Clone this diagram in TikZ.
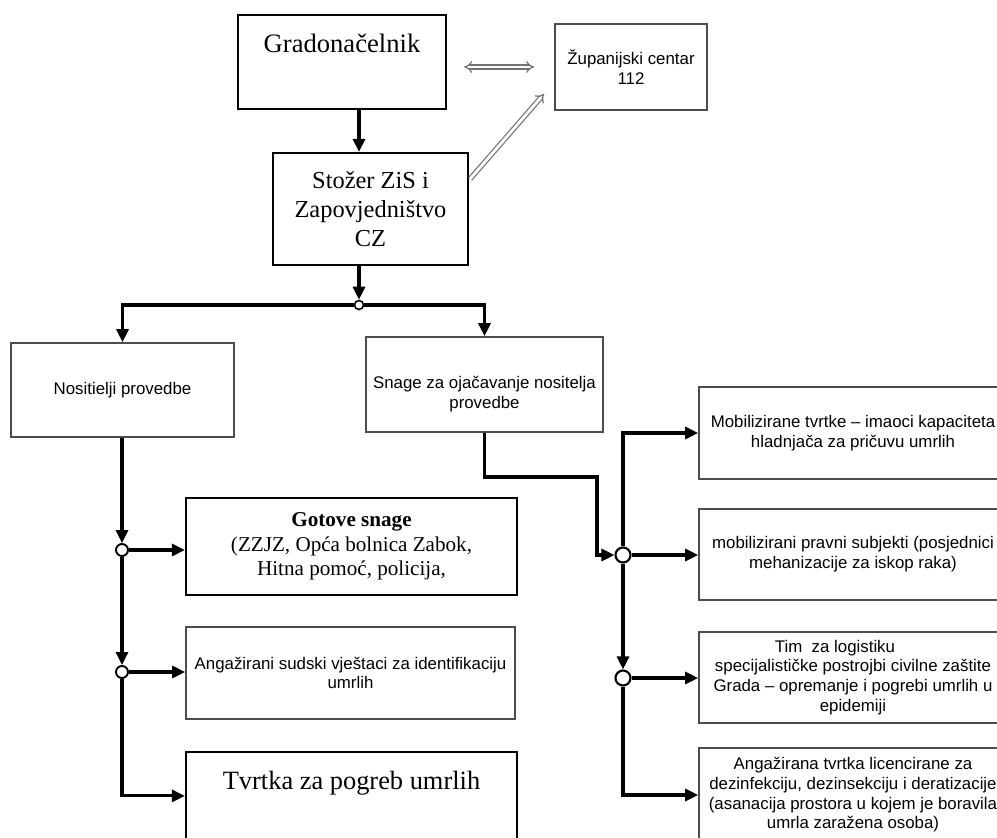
\documentclass[tikz,border=0pt]{standalone}
\usepackage{fontspec}
\setmainfont{Liberation Serif}
\setsansfont{Liberation Sans}
\usetikzlibrary{arrows.meta,calc}
\begin{document}
\begin{tikzpicture}[x=1bp,y=-1bp,
  serifbox/.style={draw=black,line width=2.2bp,rectangle,inner sep=0pt,align=center},
  sansbox/.style={draw=black!70,line width=1.6bp,rectangle,inner sep=0pt,align=center,
    font=\sffamily\fontsize{16.9}{19.8}\selectfont},
  rbox/.style={sansbox,minimum width=308bp},
  conn/.style={line width=3.1bp,-{Triangle[length=13bp,width=12bp]}},
  jsmall/.style={circle,draw=black,fill=white,line width=1.6bp,inner sep=0pt,minimum size=9bp},
  jmid/.style={circle,draw=black,fill=white,line width=1.9bp,inner sep=0pt,minimum size=12bp},
  jbig/.style={circle,draw=black,fill=white,line width=2.1bp,inner sep=0pt,minimum size=15bp},
  dbl/.style={draw=black!55,line width=1.2bp,double=white,double distance=2.8bp}
]
\useasboundingbox (0,0) rectangle (997,838);
\clip (0,0) rectangle (997,838);

% top boxes
\node[serifbox,anchor=base,text height=37bp,text depth=57bp,minimum width=208bp,
  font=\fontsize{26.7}{30}\selectfont] (grad) at (342,52) {Gradonačelnik};
\node[sansbox,minimum width=152bp,minimum height=86bp] (zup) at (631,67) {Županijski centar\\112};
\node[serifbox,minimum width=195bp,minimum height=112bp,
  font=\fontsize{24.5}{29}\selectfont] (stoz) at (370.5,209) {Stožer ZiS i\\Zapovjedništvo\\CZ};

% second level
\node[sansbox,minimum width=223bp,minimum height=94bp] (nos) at (122.5,390) {Nositielji provedbe};
\node[sansbox,minimum width=237bp,minimum height=95bp] (snage) at (484.5,384.5)
  {\rule{0pt}{32bp}Snage za ojačavanje nositelja\\provedbe};

% left column
\node[serifbox,minimum width=331bp,minimum height=97bp,
  font=\fontsize{21.2}{24.5}\selectfont] (got) at (351.5,546.5)
  {\textbf{Gotove snage}\\(ZZJZ, Opća bolnica Zabok,\\Hitna pomoć, policija,};
\node[sansbox,minimum width=329bp,minimum height=92bp] (angl) at (350.5,673)
  {Angažirani sudski vještaci za identifikaciju\\umrlih};
\node[serifbox,anchor=base,text height=37bp,text depth=71bp,minimum width=331bp,
  font=\fontsize{26.5}{30}\selectfont] (tv) at (351.5,789) {Tvrtka za pogreb umrlih};

% right column
\node[rbox,minimum height=92bp] (mob) at (853,433)
  {Mobilizirane tvrtke – imaoci kapaciteta\\hladnjača za pričuvu umrlih};
\node[rbox,minimum height=91bp] (mobp) at (853,554.5)
  {mobilizirani pravni subjekti (posjednici\\mehanizacije za iskop raka)};
\node[rbox,minimum height=91bp] (tim) at (853,677.5)
  {Tim\ \ za logistiku\hspace*{36bp}\\specijalističke postrojbi civilne zaštite\\Grada – opremanje i pogrebi umrlih u\\epidemiji};
\node[rbox,minimum height=94bp] (ang) at (853,795)
  {Angažirana tvrtka licencirane za\\dezinfekciju, dezinsekciju i deratizacije\\(asanacija prostora u kojem je boravila\\umrla zaražena osoba)};

% junctions
\node[jsmall] (j0) at (359,305) {};
\node[jmid] (j1) at (122,550) {};
\node[jmid] (j2) at (122,672) {};
\node[jbig] (j3) at (623,555) {};
\node[jbig] (j4) at (623,678) {};
\coordinate (k1) at (597,477);

% connectors
\draw[conn] (grad.south -| j0) -- (stoz.north -| j0);
\draw[conn] (stoz.south -| j0) -- (j0.north);
\draw[conn] (j0.west) -| (nos.north);
\draw[conn] (j0.east) -| (snage.north);

\draw[conn] (nos.south -| j1) -- (j1.north);
\draw[conn] (j1.east) -- (j1.east -| got.west);
\draw[conn] (j1.south) -- (j2.north);
\draw[conn] (j2.east) -- (j2.east -| angl.west);
\draw[conn] (j2.south) |- ($(tv.north west)+(0,45)$);

\draw[conn] (snage.south) |- (k1) |- (j3.west);
\draw[conn] (j3.north) |- (mob.west);
\draw[conn] (j3.east) -- (j3.east -| mobp.west);
\draw[conn] (j3.south) -- (j4.north);
\draw[conn] (j4.east) -- (j4.east -| tim.west);
\draw[conn] (j4.south) |- (ang.west);

% double arrows
\draw[dbl,{Implies}-{Implies},shorten <=17bp,shorten >=20bp] (zup.west -| grad.east) -- (zup.west);
\draw[dbl,-{Implies}] ($(stoz.north east)+(1,27)$) -- ($(zup.south west)+(-10,-17)$);
\end{tikzpicture}
\end{document}
